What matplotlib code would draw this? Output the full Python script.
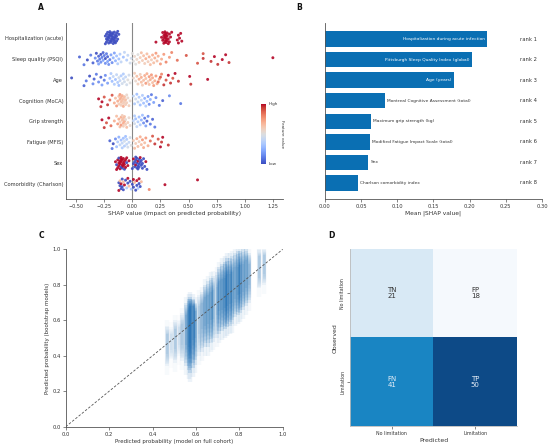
import numpy as np
import matplotlib
matplotlib.use('Agg')
import matplotlib.pyplot as plt
from matplotlib.colors import LinearSegmentedColormap, Normalize
import matplotlib.cm as cm

# ---------------- Panel A data (SHAP beeswarm) ----------------
features_a = ['Hospitalization (acute)', 'Sleep quality (PSQI)', 'Age', 'Cognition (MoCA)',
              'Grip strength', 'Fatigue (MFIS)', 'Sex', 'Comorbidity (Charlson)']

hosp_shap = [-0.24, -0.24, -0.23, -0.23, -0.23, -0.22, -0.22, -0.22, -0.21, -0.21, -0.21, -0.20,
             -0.20, -0.20, -0.20, -0.19, -0.19, -0.19, -0.18, -0.18, -0.18, -0.18, -0.17, -0.17,
             -0.17, -0.16, -0.16, -0.16, -0.16, -0.15, -0.15, -0.15, -0.14, -0.14, -0.14, -0.13,
             -0.13, -0.12,
             0.21, 0.26, 0.27, 0.27, 0.28, 0.28, 0.28, 0.29, 0.29, 0.29, 0.29, 0.30, 0.30, 0.30,
             0.30, 0.31, 0.31, 0.31, 0.32, 0.32, 0.33, 0.33, 0.34, 0.35, 0.40, 0.41, 0.41, 0.42,
             0.43, 0.44]
hosp_val = [0.0] * 38 + [1.0] * 30

sleep_shap = [-0.47, -0.43, -0.40, -0.37, -0.35, -0.33, -0.32, -0.31, -0.30, -0.30, -0.29, -0.28,
              -0.28, -0.27, -0.26, -0.26, -0.25, -0.24, -0.24, -0.23, -0.22, -0.22, -0.21, -0.20,
              -0.19, -0.18, -0.17, -0.16, -0.15,
              -0.14, -0.13, -0.12, -0.11, -0.10, -0.08, -0.07, -0.05, -0.04, -0.02,
              -0.01, 0.00, 0.01, 0.02, 0.03, 0.04, 0.05, 0.06,
              0.07, 0.08, 0.09, 0.10, 0.11, 0.12, 0.13, 0.14, 0.15, 0.16, 0.17, 0.18, 0.19, 0.20,
              0.21, 0.22, 0.23, 0.25, 0.26, 0.28, 0.30, 0.33, 0.35,
              0.40, 0.48, 0.58, 0.63, 0.63, 0.70, 0.73, 0.76, 0.80, 0.83, 0.86, 1.25]
sleep_val = [0.05, 0.10, 0.00, 0.10, 0.05, 0.15, 0.00, 0.10, 0.05, 0.20, 0.10, 0.00, 0.15, 0.10,
             0.05, 0.20, 0.10, 0.15, 0.00, 0.10, 0.20, 0.05, 0.15, 0.10, 0.20, 0.15, 0.25, 0.20,
             0.25,
             0.30, 0.35, 0.30, 0.35, 0.40, 0.30, 0.40, 0.35, 0.40, 0.45,
             0.45, 0.50, 0.50, 0.55, 0.50, 0.55, 0.50, 0.60,
             0.60, 0.65, 0.60, 0.65, 0.60, 0.70, 0.65, 0.60, 0.70, 0.65, 0.60, 0.70, 0.65, 0.70,
             0.75, 0.65, 0.70, 0.75, 0.70, 0.75, 0.80, 0.75, 0.80,
             0.85, 0.90, 0.90, 0.95, 0.90, 0.95, 1.00, 0.95, 1.00, 1.00, 0.95, 1.00]

age_shap = [-0.54, -0.43, -0.41, -0.38, -0.35, -0.34, -0.32, -0.30, -0.28, -0.27, -0.25, -0.24, -0.22,
            -0.20, -0.19, -0.18, -0.17, -0.16, -0.15, -0.14, -0.13, -0.12, -0.12, -0.11, -0.10,
            -0.09, -0.08, -0.08, -0.07, -0.06, -0.05, -0.04, -0.03, -0.02,
            0.01, 0.02, 0.03, 0.04, 0.05, 0.06, 0.07, 0.08, 0.08, 0.09, 0.10, 0.11, 0.12, 0.12,
            0.13, 0.14, 0.15, 0.15, 0.16, 0.17, 0.18, 0.18, 0.19, 0.20, 0.21, 0.22, 0.24, 0.26,
            0.23, 0.25, 0.28, 0.30, 0.32, 0.34, 0.36, 0.38, 0.41, 0.51, 0.52, 0.67]
age_val = [0.00, 0.05, 0.10, 0.00, 0.15, 0.05, 0.10, 0.15, 0.05, 0.20, 0.10, 0.15, 0.20,
           0.30, 0.35, 0.30, 0.40, 0.35, 0.30, 0.40, 0.35, 0.45, 0.30, 0.40, 0.35, 0.45, 0.40,
           0.35, 0.45, 0.40, 0.45, 0.50, 0.45, 0.50,
           0.55, 0.60, 0.55, 0.65, 0.60, 0.70, 0.60, 0.65, 0.70, 0.60, 0.65, 0.70, 0.75, 0.65,
           0.70, 0.60, 0.75, 0.65, 0.70, 0.75, 0.65, 0.70, 0.75, 0.70, 0.75, 0.70, 0.75, 0.80,
           0.85, 0.90, 0.95, 0.90, 1.00, 0.95, 0.90, 1.00, 0.95, 1.00, 0.95, 1.00]

cog_shap = [-0.30, -0.28, -0.27, -0.25, -0.22, -0.20, -0.18,
            -0.16, -0.15, -0.14, -0.13, -0.12, -0.12, -0.11, -0.11, -0.10, -0.10, -0.10, -0.09,
            -0.09, -0.08, -0.08, -0.08, -0.07, -0.07, -0.06, -0.06, -0.05, -0.05, -0.04, -0.03,
            -0.02,
            0.01, 0.02, 0.03, 0.04, 0.05, 0.06, 0.07, 0.08, 0.09, 0.10, 0.11, 0.12, 0.13,
            0.14, 0.15, 0.16, 0.17, 0.19, 0.21, 0.24, 0.27, 0.33, 0.43]
cog_val = [1.00, 0.95, 1.00, 0.90, 0.95, 0.85, 0.90,
           0.70, 0.65, 0.75, 0.70, 0.65, 0.60, 0.70, 0.75, 0.65, 0.70, 0.60, 0.65, 0.70, 0.60,
           0.65, 0.70, 0.60, 0.65, 0.60, 0.65, 0.55, 0.60, 0.55, 0.60, 0.55,
           0.40, 0.35, 0.45, 0.30, 0.40, 0.35, 0.30, 0.40, 0.35, 0.30, 0.25, 0.35, 0.30,
           0.20, 0.15, 0.25, 0.10, 0.20, 0.15, 0.10, 0.05, 0.15, 0.10]

grip_shap = [-0.27, -0.25, -0.23, -0.21, -0.19,
             -0.16, -0.14, -0.13, -0.12, -0.11, -0.11, -0.10, -0.10, -0.09, -0.09, -0.08, -0.08,
             -0.08, -0.07, -0.07, -0.06, -0.06, -0.05, -0.04, -0.03, -0.02,
             0.01, 0.02, 0.02, 0.03, 0.04, 0.05, 0.06, 0.07, 0.08, 0.09,
             0.10, 0.11, 0.12, 0.13, 0.14, 0.16, 0.18, 0.20]
grip_val = [1.00, 0.95, 0.90, 1.00, 0.85,
            0.70, 0.65, 0.75, 0.70, 0.65, 0.60, 0.70, 0.75, 0.65, 0.60, 0.70, 0.65, 0.60, 0.70,
            0.65, 0.60, 0.55, 0.65, 0.60, 0.55, 0.55,
            0.40, 0.35, 0.45, 0.30, 0.40, 0.35, 0.30, 0.35, 0.25, 0.30,
            0.15, 0.10, 0.20, 0.05, 0.15, 0.10, 0.05, 0.10]

fat_shap = [-0.20, -0.18, -0.17, -0.15,
            -0.14, -0.13, -0.12, -0.11, -0.10, -0.09, -0.09, -0.08, -0.07, -0.07, -0.06, -0.05,
            -0.05, -0.04, -0.03, -0.02, -0.01,
            0.01, 0.02, 0.03, 0.04, 0.05, 0.06, 0.07, 0.08, 0.09, 0.10, 0.11, 0.12, 0.14,
            0.16, 0.18, 0.20, 0.23, 0.25, 0.26, 0.27, 0.32]
fat_val = [0.05, 0.10, 0.00, 0.15,
           0.30, 0.35, 0.25, 0.40, 0.30, 0.35, 0.40, 0.30, 0.35, 0.45, 0.30, 0.40, 0.35, 0.45,
           0.40, 0.45, 0.50,
           0.60, 0.65, 0.60, 0.70, 0.65, 0.60, 0.70, 0.65, 0.75, 0.70, 0.65, 0.75, 0.70,
           0.85, 0.90, 0.95, 0.90, 1.00, 0.95, 1.00, 0.95]

sex_shap = [-0.15, -0.14, -0.14, -0.13, -0.13, -0.12, -0.12, -0.12, -0.11, -0.11, -0.11, -0.10,
            -0.10, -0.10, -0.10, -0.09, -0.09, -0.09, -0.08, -0.08, -0.08, -0.07, -0.07, -0.07,
            -0.06, -0.06, -0.05, -0.05, -0.04, -0.03,
            0.00, 0.01, 0.01, 0.02, 0.02, 0.03, 0.03, 0.03, 0.04, 0.04, 0.04, 0.05, 0.05, 0.05,
            0.06, 0.06, 0.06, 0.07, 0.07, 0.08, 0.08, 0.09, 0.09, 0.10, 0.11, 0.12, 0.13]
sex_val = [1, 1, 0, 1, 1, 1, 0, 1, 1, 1, 1, 1, 0, 1, 1, 1, 1, 0, 1, 1, 1, 1, 0, 1, 1, 1, 0, 1, 1, 1,
           0, 0, 1, 0, 0, 0, 1, 0, 0, 0, 0, 0, 1, 0, 0, 0, 0, 0, 1, 0, 0, 0, 0, 0, 0, 1, 0]

como_shap = [-0.12, -0.12, -0.11, -0.11, -0.10, -0.10, -0.09, -0.09, -0.08, -0.08, -0.07, -0.06,
             -0.05, -0.04, -0.04, -0.03, -0.02, -0.01, 0.00, 0.01, 0.01, 0.02, 0.03, 0.04, 0.04,
             0.05, 0.06, 0.06, 0.07, 0.08, 0.15, 0.29, 0.58]
como_val = [0.0, 1.0, 0.0, 0.67, 0.0, 1.0, 0.0, 0.0, 0.67, 0.0, 1.0, 0.0, 0.33, 0.0, 1.0, 0.67,
            0.0, 0.33, 0.0, 1.0, 0.0, 0.67, 0.0, 0.0, 1.0, 0.33, 0.0, 1.0, 0.0, 0.67, 0.8, 1.0, 1.0]

shap_rows = [hosp_shap, sleep_shap, age_shap, cog_shap, grip_shap, fat_shap, sex_shap, como_shap]
val_rows = [hosp_val, sleep_val, age_val, cog_val, grip_val, fat_val, sex_val, como_val]

# ---------------- Panel B data ----------------
features_b = ['Hospitalization during acute infection', 'Pittsburgh Sleep Quality Index (global)',
              'Age (years)', 'Montreal Cognitive Assessment (total)', 'Maximum grip strength (kg)',
              'Modified Fatigue Impact Scale (total)', 'Sex', 'Charlson comorbidity index']
mean_abs_shap = [0.224, 0.203, 0.178, 0.083, 0.064, 0.062, 0.060, 0.045]
rank_labels = ['rank 1', 'rank 2', 'rank 3', 'rank 4', 'rank 5', 'rank 6', 'rank 7', 'rank 8']

# ---------------- Panel C data (bootstrap prediction stripes per patient group) ----------------
stripe_x = [0.468, 0.485, 0.504, 0.520, 0.537, 0.556, 0.566, 0.575, 0.585, 0.596, 0.612,
            0.627, 0.642, 0.655, 0.668, 0.680, 0.695, 0.708, 0.720, 0.733, 0.745, 0.757,
            0.768, 0.782, 0.795, 0.805, 0.818, 0.832, 0.845, 0.890, 0.912]
stripe_lo = [0.34, 0.38, 0.36, 0.40, 0.37, 0.34, 0.32, 0.30, 0.33, 0.35, 0.40,
             0.42, 0.45, 0.45, 0.47, 0.48, 0.50, 0.52, 0.54, 0.55, 0.56, 0.57,
             0.58, 0.62, 0.63, 0.64, 0.66, 0.68, 0.70, 0.78, 0.80]
stripe_hi = [0.57, 0.56, 0.60, 0.60, 0.64, 0.70, 0.72, 0.73, 0.72, 0.70, 0.74,
             0.76, 0.80, 0.82, 0.84, 0.85, 0.87, 0.90, 0.92, 0.93, 0.95, 0.95,
             0.96, 0.98, 0.99, 0.99, 1.00, 1.00, 0.98, 1.00, 1.00]
stripe_core_lo = [0.41, 0.43, 0.44, 0.46, 0.46, 0.46, 0.45, 0.47, 0.49, 0.50, 0.52,
                  0.55, 0.57, 0.58, 0.60, 0.61, 0.63, 0.65, 0.66, 0.67, 0.68, 0.69,
                  0.70, 0.72, 0.74, 0.75, 0.76, 0.78, 0.80, 0.84, 0.86]
stripe_core_hi = [0.52, 0.52, 0.55, 0.56, 0.58, 0.63, 0.66, 0.68, 0.68, 0.65, 0.68,
                  0.70, 0.73, 0.74, 0.76, 0.77, 0.79, 0.82, 0.83, 0.84, 0.86, 0.86,
                  0.87, 0.90, 0.90, 0.91, 0.92, 0.94, 0.92, 0.96, 0.97]
stripe_density = [1, 0.5, 1, 0.5, 1, 2, 3, 3, 3, 2, 1,
                  1.5, 2, 2, 2, 1.5, 1.5, 2, 2.5, 3, 3, 2.5,
                  2, 2, 2.5, 2.5, 2, 2, 1.5, 1, 1]
diag_line = [0.0, 1.0]

# ---------------- Panel D data ----------------
cm_counts = [[21, 18], [41, 50]]
cm_names = [['TN', 'FP'], ['FN', 'TP']]
class_labels = ['No limitation', 'Limitation']

# ---------------- helpers ----------------
def strip_jitter(n, half_width=0.3):
    # deterministic low-discrepancy vertical jitter (golden-ratio sequence)
    k = np.arange(n)
    return ((k * 0.6180339887 + 0.37) % 1.0 - 0.5) * 2 * half_width

TXT = '#333333'
SP = '#555555'
plt.rcParams['font.family'] = 'DejaVu Sans'

fig = plt.figure(figsize=(5.5, 4.48), dpi=100)

def style(ax, fs=3.6):
    for s in ['top', 'right']:
        ax.spines[s].set_visible(False)
    for s in ['left', 'bottom']:
        ax.spines[s].set_color(SP)
        ax.spines[s].set_linewidth(0.6)
    ax.tick_params(labelsize=fs, length=2, width=0.5, color=SP, labelcolor=TXT, pad=1.5)

# ---------------- Panel A ----------------
axa = fig.add_axes([0.12, 0.5558, 0.3945, 0.3929])
cmap_a = plt.get_cmap('coolwarm')
axa.axvline(0, color='#888888', lw=0.8, zorder=1)
for r, (sv, fv) in enumerate(zip(shap_rows, val_rows)):
    offs = strip_jitter(len(sv))
    axa.scatter(sv, r + offs, c=fv, cmap=cmap_a, vmin=0, vmax=1, s=4.5, lw=0, alpha=0.9, zorder=3)
axa.set_yticks(range(len(features_a)))
axa.set_yticklabels(features_a)
axa.set_ylim(len(features_a) - 0.3, -0.7)
axa.set_xlim(-0.59, 1.34)
axa.set_xticks([-0.5, -0.25, 0, 0.25, 0.5, 0.75, 1.0, 1.25])
style(axa, 3.5)
axa.tick_params(axis='y', length=0, labelsize=3.7, pad=2)
axa.set_xlabel('SHAP value (impact on predicted probability)', fontsize=4.2, color=TXT, labelpad=1.5)

cax = fig.add_axes([0.474, 0.634, 0.0091, 0.134])
cb = fig.colorbar(cm.ScalarMappable(norm=Normalize(0, 1), cmap=cmap_a), cax=cax)
cb.set_ticks([])
cb.outline.set_visible(False)
cax.text(1.6, 1.0, 'High', transform=cax.transAxes, fontsize=3, color=TXT, ha='left', va='center')
cax.text(1.6, 0.0, 'Low', transform=cax.transAxes, fontsize=3, color=TXT, ha='left', va='center')
cax.text(4.3, 0.5, 'Feature value', transform=cax.transAxes, fontsize=3, color=TXT,
         ha='center', va='center', rotation=270)

# ---------------- Panel B ----------------
axb = fig.add_axes([0.5909, 0.5558, 0.3945, 0.3929])
bar_color = '#0a6fb3'
ypos = np.arange(len(features_b))
axb.barh(ypos, mean_abs_shap, height=0.75, color=bar_color)
for i, (name, v) in enumerate(zip(features_b, mean_abs_shap)):
    if i < 3:
        axb.text(v - 0.003, i, name, ha='right', va='center', fontsize=3.2, color='white')
    else:
        axb.text(v + 0.003, i, name, ha='left', va='center', fontsize=3.2, color=TXT)
    axb.text(0.27, i, rank_labels[i], ha='left', va='center', fontsize=3.8, color=TXT)
axb.set_ylim(len(features_b) - 0.22, -0.78)
axb.set_xlim(0, 0.30)
axb.set_xticks([0, 0.05, 0.10, 0.15, 0.20, 0.25, 0.30])
axb.set_yticks([])
style(axb, 3.7)
axb.set_xlabel('Mean |SHAP value|', fontsize=4.2, color=TXT, labelpad=1.5)

# ---------------- Panel C ----------------
axc = fig.add_axes([0.1195, 0.0475, 0.3945, 0.396])
dot_color = '#1f6fb5'
n_layers = 7
for x, lo, hi, clo, chi, d in zip(stripe_x, stripe_lo, stripe_hi, stripe_core_lo,
                                  stripe_core_hi, stripe_density):
    # faint halo beyond the visible range
    axc.vlines(x, max(lo - 0.05, 0), min(hi + 0.03, 1.0), color=dot_color,
               alpha=min(0.03 * d, 0.08), lw=3.2, zorder=2)
    for k in range(n_layers):
        t = k / (n_layers - 1)
        axc.vlines(x, lo + t * (clo - lo), hi + t * (chi - hi), color=dot_color,
                   alpha=min(0.055 * d, 0.16), lw=2.9 - 1.2 * t, zorder=2)
axc.plot(diag_line, diag_line, ls=(0, (3, 2)), color='#555555', lw=0.6, zorder=5)
axc.set_xlim(0, 1)
axc.set_ylim(0, 1)
axc.set_xticks(np.arange(0, 1.01, 0.2))
axc.set_yticks(np.arange(0, 1.01, 0.2))
style(axc, 3.8)
axc.set_xlabel('Predicted probability (model on full cohort)', fontsize=4.0, color=TXT, labelpad=1.5)
axc.set_ylabel('Predicted probability (bootstrap models)', fontsize=4.0, color=TXT, labelpad=2)

# ---------------- Panel D ----------------
axd = fig.add_axes([0.6364, 0.0491, 0.3036, 0.3944])
cmap_d = LinearSegmentedColormap.from_list('cmd', [(0.0, '#f5f9fd'), (0.72, '#1a86c4'),
                                                   (1.0, '#0d4a87')])
counts = np.array(cm_counts)
axd.imshow(counts, cmap=cmap_d, vmin=18, vmax=50, aspect='auto')
for i in range(2):
    for j in range(2):
        col = TXT if i == 0 else '#e6eef7'
        axd.text(j, i, f'{cm_names[i][j]}\n{cm_counts[i][j]}', ha='center', va='center',
                 fontsize=5, color=col, linespacing=1.0)
axd.set_xticks([0, 1])
axd.set_xticklabels(class_labels)
axd.set_yticks([0, 1])
axd.set_yticklabels(class_labels, rotation=90, va='center')
style(axd, 3.4)
axd.spines['left'].set_color('#bbbbbb')
axd.spines['bottom'].set_color('#bbbbbb')
axd.set_xlabel('Predicted', fontsize=4.4, color=TXT, labelpad=1.5)
axd.set_ylabel('Observed', fontsize=4.4, color=TXT, labelpad=1.5)

# ---------------- Panel labels ----------------
for lab, x, y in [('A', 41, 7.5), ('B', 299, 7.5), ('C', 41.5, 235), ('D', 331, 235)]:
    fig.text(x / 550, 1 - y / 448, lab, fontsize=5.5, fontweight='bold', ha='center', va='center',
             color='#111111')

fig.savefig('out.png', dpi=100)
